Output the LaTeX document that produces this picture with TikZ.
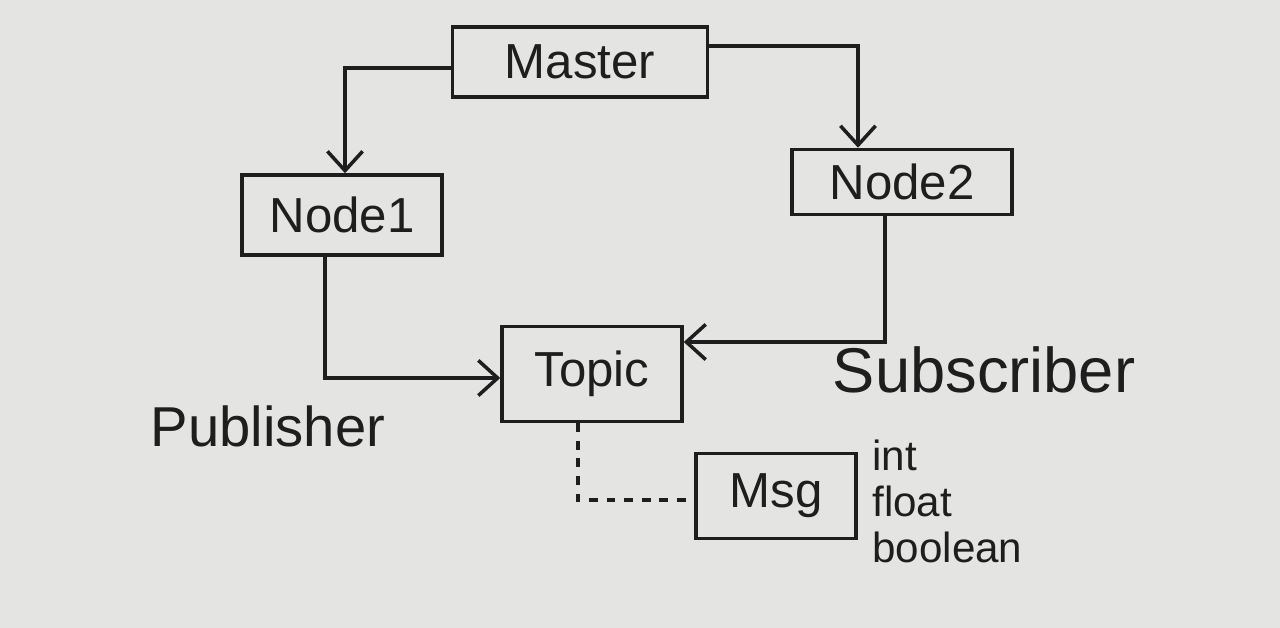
\documentclass[tikz,border=0pt]{standalone}
\usepackage{fontspec}
\setmainfont{Liberation Sans}
\usetikzlibrary{arrows.meta}
\definecolor{paper}{HTML}{E4E4E2}
\definecolor{ink}{HTML}{1E1E1E}
\begin{document}
\begin{tikzpicture}[x=0.02cm,y=-0.02cm,
  box/.style={draw=ink,line width=2pt,inner sep=0pt,font=\fontsize{28}{30}\selectfont,text=ink},
  conn/.style={draw=ink,line width=2pt,-{Straight Barb[length=11pt,width=20pt,line width=2pt]}},
  dashline/.style={draw=ink,line width=2pt,dash pattern=on 5pt off 5pt},
  lbl/.style={text=ink,inner sep=0pt}]
\fill[paper] (0,0) rectangle (1280,628);
\useasboundingbox (0,0) rectangle (1280,628);
\node[box,minimum width=5.1cm,minimum height=1.4cm] (master) at (580,62) {Master};
\node[box,minimum width=4.0cm,minimum height=1.6cm] (node1) at (342,215) {Node1};
\node[box,minimum width=4.4cm,minimum height=1.3cm] (node2) at (902,182) {Node2};
\node[box,minimum width=3.6cm,minimum height=1.9cm] (topic) at (592,374) {Topic};
\node[box,minimum width=3.2cm,minimum height=1.7cm] (msg) at (776,496) {Msg};
\draw[conn] (master.west |- 0,68) -| (node1.north -| 345,0);
\draw[conn] (master.east |- 0,46) -| (node2.north -| 858,0);
\draw[conn] (node1.south -| 325,0) |- (topic.west |- 0,378);
\draw[conn] (node2.south -| 885,0) |- (topic.east |- 0,342);
\draw[dashline] (topic.south -| 578,0) |- (msg.west |- 0,500);
\node[lbl,font=\fontsize{32}{34}\selectfont] (pub) at (268,426) {Publisher};
\node[lbl,font=\fontsize{36}{38}\selectfont] (sub) at (984,370) {Subscriber};
\node[lbl,font=\fontsize{24}{26}\selectfont,anchor=north west,align=left] (types) at (872,440) {int\\float\\boolean};
\end{tikzpicture}
\end{document}
